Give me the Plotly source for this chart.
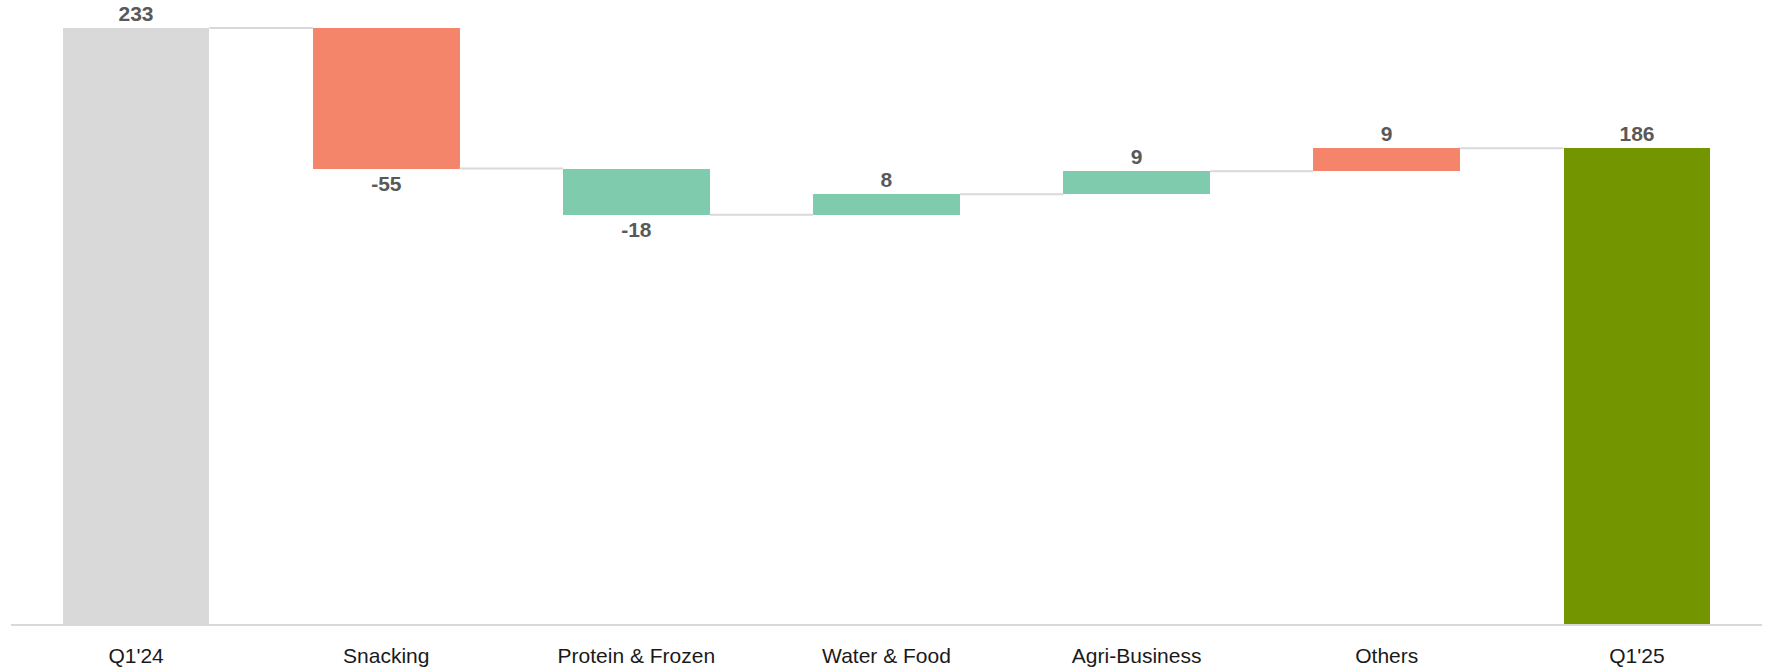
import plotly.graph_objects as go

# Waterfall: Q1'24 to Q1'25 bridge by segment
categories = ["Q1'24", "Snacking", "Protein & Frozen", "Water & Food", "Agri-Business", "Others", "Q1'25"]
values = [233, -55, -18, 8, 9, 9, 186]
measures = ["absolute", "relative", "relative", "relative", "relative", "relative", "total"]
bar_colors = ["#d9d9d9", "#f4846a", "#7fcbad", "#7fcbad", "#7fcbad", "#f4846a", "#739600"]

BAR_WIDTH = 0.586

# bar bases and running level after each step
bases, deltas, levels = [], [], []
running = 0
for v, m in zip(values, measures):
    if m == "relative":
        bases.append(running)
        deltas.append(v)
        running += v
    else:
        bases.append(0)
        deltas.append(v)
        running = v
    levels.append(running)

fig = go.Figure()

# connector lines between consecutive bars
cx, cy = [], []
for i in range(len(categories) - 1):
    cx += [i + BAR_WIDTH / 2, i + 1 - BAR_WIDTH / 2, None]
    cy += [levels[i], levels[i], None]
fig.add_trace(go.Scatter(
    x=cx, y=cy, mode="lines",
    line=dict(color="#d9d9d9", width=2),
    hoverinfo="skip", showlegend=False,
))

fig.add_trace(go.Bar(
    x=list(range(len(categories))),
    y=deltas,
    base=bases,
    width=BAR_WIDTH,
    marker=dict(color=bar_colors, line=dict(width=0)),
    text=[f"<b>{v}</b>" for v in values],
    textposition="outside",
    textfont=dict(family="Liberation Sans, Arial, sans-serif", size=21, color="#595959"),
    cliponaxis=False,
    showlegend=False,
))

fig.update_layout(
    width=1765, height=670,
    margin=dict(l=11, r=3, t=10, b=46),
    paper_bgcolor="white", plot_bgcolor="white",
    bargap=0,
    uniformtext=dict(mode=False),
    xaxis=dict(
        tickmode="array",
        tickvals=list(range(len(categories))),
        ticktext=categories,
        range=[-0.5, len(categories) - 0.5],
        showline=True, linecolor="#d9d9d9", linewidth=2,
        showgrid=False, zeroline=False, ticks="",
        ticklabelstandoff=12,
        tickfont=dict(family="Liberation Sans, Arial, sans-serif", size=21, color="#1a1a1a"),
    ),
    yaxis=dict(
        range=[0, 240],
        visible=False,
        showgrid=False, zeroline=False,
    ),
)

fig.write_html("out.html")
